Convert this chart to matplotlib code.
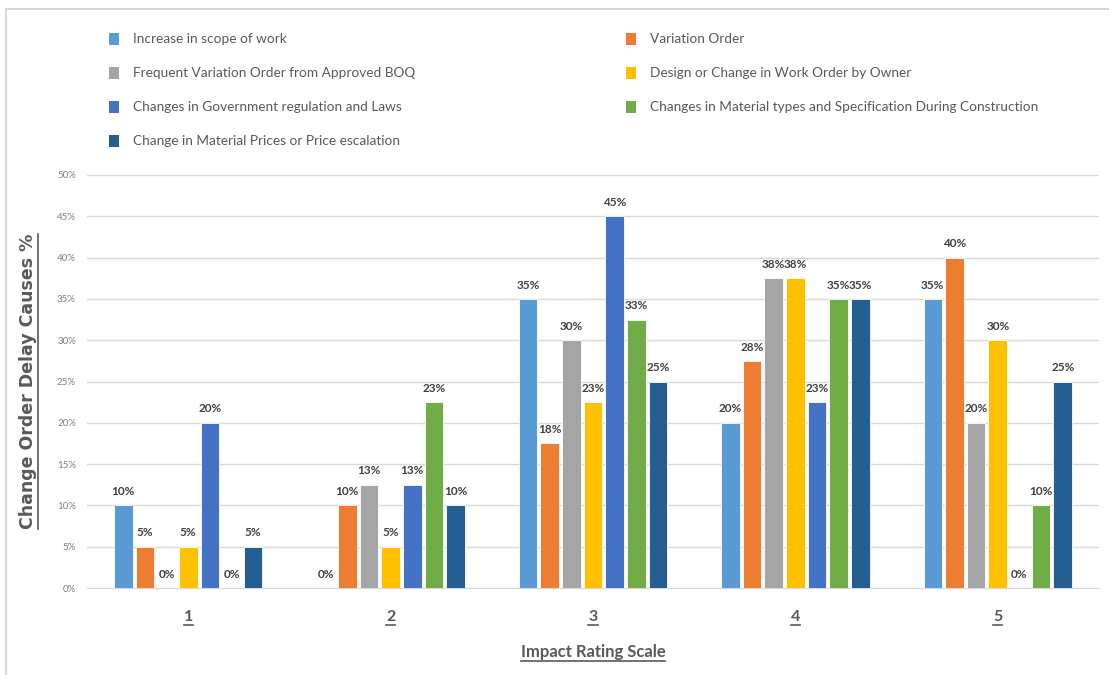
import matplotlib
matplotlib.use("Agg")
import matplotlib.pyplot as plt
from matplotlib.patches import Rectangle
from matplotlib.lines import Line2D
import numpy as np

plt.rcParams['font.family'] = ['Lato', 'DejaVu Sans']

groups = ["1", "2", "3", "4", "5"]
series = [
    "Increase in scope of work",
    "Variation Order",
    "Frequent Variation Order from Approved BOQ",
    "Design or Change in Work Order by Owner",
    "Changes in Government regulation and Laws",
    "Changes in Material types and Specification During Construction",
    "Change in Material Prices or Price escalation",
]
colors = ["#5B9BD5", "#ED7D31", "#A5A5A5", "#FFC000", "#4472C4", "#70AD47", "#255E91"]

scope = [0.10, 0.0, 0.35, 0.20, 0.35]
variation = [0.05, 0.10, 0.175, 0.275, 0.40]
frequent = [0.0, 0.125, 0.30, 0.375, 0.20]
design = [0.05, 0.05, 0.225, 0.375, 0.30]
government = [0.20, 0.125, 0.45, 0.225, 0.0]
material_types = [0.0, 0.225, 0.325, 0.35, 0.10]
prices = [0.05, 0.10, 0.25, 0.35, 0.25]
values = [scope, variation, frequent, design, government, material_types, prices]

W, H = 1109, 675
fig = plt.figure(figsize=(W / 100, H / 100), dpi=100)
ax = fig.add_axes([87 / W, 1 - 588 / H, (1099 - 87) / W, (588 - 175) / H])

x = np.arange(len(groups))
pitch = 0.107
bw = 0.092
n = len(series)
for i, (vals, c) in enumerate(zip(values, colors)):
    pos = x + (i - (n - 1) / 2) * pitch
    bars = ax.bar(pos, vals, width=bw, color=c, edgecolor="white", linewidth=0.6, zorder=3)
    for b, v in zip(bars, vals):
        pct = int(np.floor(v * 100 + 0.5))
        ax.annotate(f"{pct}%", (b.get_x() + b.get_width() / 2, v),
                    xytext=(0, 6), textcoords="offset points", ha="center", va="bottom",
                    fontsize=8.5, fontweight="bold", color="#404040", zorder=4)

ax.set_xlim(-0.5, len(groups) - 0.5)
ax.set_ylim(0, 0.5)
ax.set_yticks(np.arange(0, 0.51, 0.05))
ax.set_yticklabels([f"{int(round(t * 100))}%" for t in np.arange(0, 0.51, 0.05)],
                   fontsize=7, color="#808080")
ax.yaxis.grid(True, color="#D9D9D9", linewidth=1, zorder=0)
ax.set_axisbelow(True)
for s in ["top", "right", "left"]:
    ax.spines[s].set_visible(False)
ax.spines["bottom"].set_color("#D9D9D9")
ax.tick_params(axis="both", length=0)
ax.tick_params(axis="y", pad=8)
ax.set_xticks(x)
ax.set_xticklabels(groups, fontsize=11.5, fontweight="bold", color="#595959")
ax.tick_params(axis="x", pad=16)

xl = ax.set_xlabel("Impact Rating Scale", fontsize=12, fontweight="bold", color="#595959", labelpad=14)
yl = ax.set_ylabel("Change Order Delay Causes %", fontsize=12.5, fontweight="bold", color="#595959",
                   labelpad=14, family=["DejaVu Sans"])

# legend (two columns, manual layout)
col_x = [113, 630]
row_y = [39, 73, 107, 141]
order = [(0, 0), (1, 0), (0, 1), (1, 1), (0, 2), (1, 2), (0, 3)]
leg_texts = []
for (ci, ri), name, c in zip(order, series, colors):
    px, py = col_x[ci], row_y[ri]
    fig.patches.append(Rectangle(((px - 4) / W, 1 - (py + 6) / H), 10 / W, 12 / H,
                                 transform=fig.transFigure, facecolor=c, edgecolor="none"))
    leg_texts.append(fig.text((px + 20) / W, 1 - py / H, name, fontsize=12, color="#595959",
                              va="center", ha="left"))

# outer frame
fig.add_artist(Line2D([6 / W, 6 / W], [0, 1 - 9 / H], transform=fig.transFigure, color="#D0D0D0", lw=1.2))
fig.add_artist(Line2D([6 / W, 1], [1 - 9 / H, 1 - 9 / H], transform=fig.transFigure, color="#D0D0D0", lw=1.2))

fig.canvas.draw()
r = fig.canvas.get_renderer()

# fit legend font so the longest entry matches the reference width
longest = leg_texts[5]
wpx = longest.get_window_extent(renderer=r).width
scale = 385.0 / wpx
for t in leg_texts:
    t.set_fontsize(12 * scale)

fig.canvas.draw()
inv = fig.transFigure.inverted()

def underline(t, vertical=False):
    bb = t.get_window_extent(renderer=r)
    (x0, y0), (x1, y1) = inv.transform([[bb.x0, bb.y0], [bb.x1, bb.y1]])
    if vertical:
        xx = x1 + 1 / W
        fig.add_artist(Line2D([xx, xx], [y0, y1], transform=fig.transFigure, color="#595959", lw=1.2))
    else:
        yy = y0 - 1 / H
        fig.add_artist(Line2D([x0, x1], [yy, yy], transform=fig.transFigure, color="#595959", lw=1.2))

underline(xl)
underline(yl, vertical=True)
for t in ax.get_xticklabels():
    underline(t)

fig.savefig("out.png", dpi=100)
